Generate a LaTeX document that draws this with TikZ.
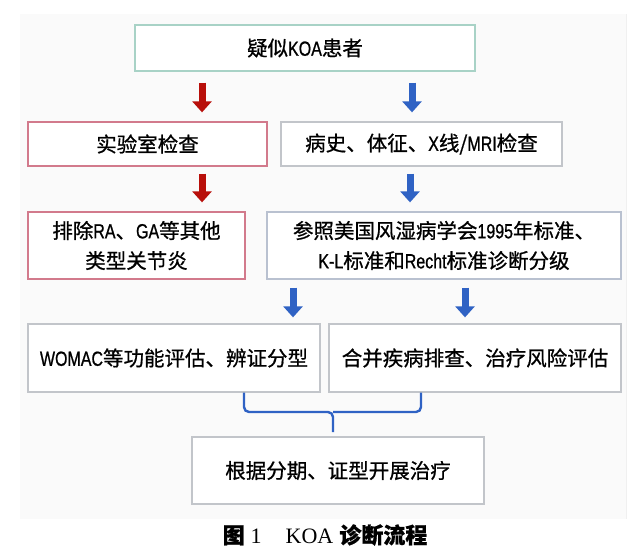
\documentclass[tikz,border=0pt]{standalone}
\usepackage{fontspec}
\setmainfont{Noto Sans CJK SC}[FakeBold=0.8]
\newfontfamily\latn[FakeStretch=0.78,FakeBold=0.8]{Liberation Sans}
\newfontfamily\capserif{Liberation Serif}
\usetikzlibrary{arrows.meta}
\definecolor{arrred}{HTML}{B80F0A}
\definecolor{arrblue}{HTML}{2F62C4}
\definecolor{tealb}{HTML}{A8D2C6}
\definecolor{pinkb}{HTML}{D27A8C}
\definecolor{grayb}{HTML}{C2C5CA}
\definecolor{bgrayb}{HTML}{B9C1D0}
\definecolor{panel}{HTML}{FAFAFA}
\begin{document}
\begin{tikzpicture}[x=1pt,y=-1pt,
  box/.style={draw=#1, line width=1.3pt, fill=white, inner sep=0pt, align=center,
    font=\fontsize{20.5}{30}\selectfont},
  redarr/.style={draw=arrred, line width=7pt, -{Triangle[width=19pt,length=11pt]}},
  bluearr/.style={draw=arrblue, line width=7pt, -{Triangle[width=19pt,length=11pt]}},
  bracestyle/.style={draw=arrblue, line width=2.4pt, rounded corners=5pt}]
\useasboundingbox (0,0) rectangle (644,551);
\fill[panel] (20,14) rectangle (626,519);
\draw[gray!12, line width=0.8pt] (626,14) -- (626,519);

\node[box=tealb, minimum width=340pt, minimum height=46pt] (b1) at (305,48) {疑似{\latn KOA}患者};
\node[box=pinkb, minimum width=239pt, minimum height=44pt] (b2) at (147.5,144) {实验室检查};
\node[box=grayb, minimum width=281pt, minimum height=44pt] (b3) at (421.5,144) {病史、体征、{\latn X}线/{\latn MRI}检查};
\node[box=pinkb, minimum width=217pt, minimum height=67pt] (b4) at (136.5,245.5) {排除{\latn RA}、{\latn GA}等其他\\类型关节炎};
\node[box=bgrayb, minimum width=354pt, minimum height=67pt] (b5) at (444,245.5) {参照美国风湿病学会{\latn 1995}年标准、\\{\latn K-L}标准和{\latn Recht}标准诊断分级};
\node[box=grayb, minimum width=292pt, minimum height=68pt] (b6) at (174,358) {{\latn WOMAC}等功能评估、辨证分型};
\node[box=grayb, minimum width=292pt, minimum height=68pt] (b7) at (475,358) {合并疾病排查、治疗风险评估};
\node[box=grayb, minimum width=292pt, minimum height=67pt] (b8) at (338,470.5) {根据分期、证型开展治疗};
\node[font=\fontsize{22}{26}\selectfont, inner sep=0pt] (cap) at (325,535)
  {\bfseries 图\hspace{6pt}{\capserif\mdseries 1}\hspace{24pt}{\capserif\mdseries KOA}\hspace{6pt}诊断流程};

\draw[redarr, shorten <=11pt, shorten >=9pt] (202,0 |- b1.south) -- (202,0 |- b2.north);
\draw[bluearr, shorten <=11pt, shorten >=9pt] (412,0 |- b1.south) -- (412,0 |- b3.north);
\draw[redarr, shorten <=7pt, shorten >=9pt] (202,0 |- b2.south) -- (202,0 |- b4.north);
\draw[bluearr, shorten <=7pt, shorten >=9pt] (410,0 |- b3.south) -- (410,0 |- b5.north);
\draw[bluearr, shorten <=8pt, shorten >=6pt] (293,0 |- b5.south) -- (293,0 |- b6.north);
\draw[bluearr, shorten <=8pt, shorten >=6pt] (465,0 |- b5.south) -- (465,0 |- b7.north);

\draw[bracestyle] (244,0 |- b6.south) -- (244,412) -- (333,412) -- (333,432);
\draw[bracestyle] (421,0 |- b7.south) -- (421,412) -- (333,412);
\end{tikzpicture}
\end{document}
